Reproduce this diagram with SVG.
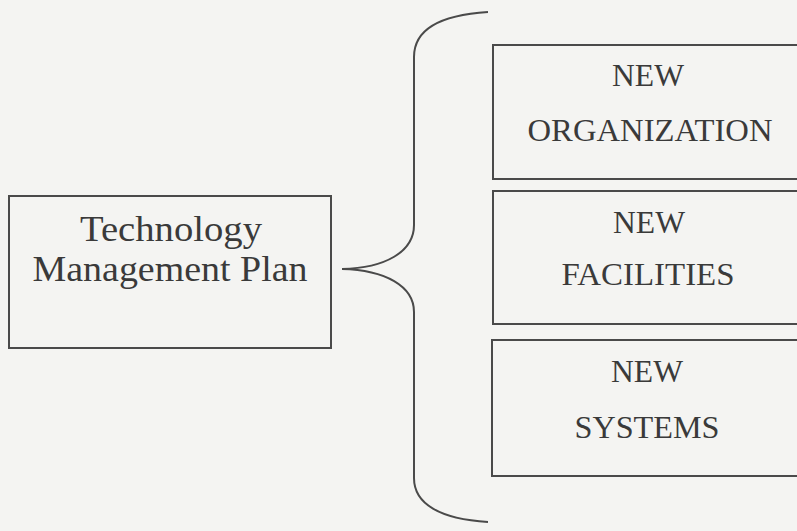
<svg xmlns="http://www.w3.org/2000/svg" width="797" height="531" viewBox="0 0 797 531">
  <style>
    .box { fill: none; stroke: #4a4a4a; stroke-width: 2; }
    .lbl { font-family: "Liberation Serif", "Times New Roman", serif; fill: #3a3a3a; text-anchor: middle; }
    .big { font-size: 35px; }
    .sm { font-size: 31px; }
    .brace { fill: none; stroke: #4a4a4a; stroke-width: 2; }
  </style>
  <rect width="797" height="531" fill="#f4f4f2"/>
  <g id="plan">
    <rect class="box" x="9" y="196" width="322" height="152"/>
    <text class="lbl big" x="171" y="241" textLength="182" lengthAdjust="spacingAndGlyphs">Technology</text>
    <text class="lbl big" x="170" y="281" textLength="275" lengthAdjust="spacingAndGlyphs">Management Plan</text>
  </g>
  <g id="connectors">
    <path class="brace" d="M488,12 C440,15 414,30 414,57 L414,225 C414,252 385,268 342,269 C385,270 414,286 414,312 L414,478 C414,504 440,519 488,522"/>
  </g>
  <g id="organization">
    <rect class="box" x="493" y="45" width="320" height="134"/>
    <text class="lbl sm" x="648" y="86" textLength="72" lengthAdjust="spacingAndGlyphs">NEW</text>
    <text class="lbl sm" x="650" y="141" textLength="245" lengthAdjust="spacingAndGlyphs">ORGANIZATION</text>
  </g>
  <g id="facilities">
    <rect class="box" x="493" y="191" width="320" height="133"/>
    <text class="lbl sm" x="649" y="233" textLength="72" lengthAdjust="spacingAndGlyphs">NEW</text>
    <text class="lbl sm" x="648" y="285" textLength="173" lengthAdjust="spacingAndGlyphs">FACILITIES</text>
  </g>
  <g id="systems">
    <rect class="box" x="492" y="340" width="320" height="136"/>
    <text class="lbl sm" x="647" y="382" textLength="72" lengthAdjust="spacingAndGlyphs">NEW</text>
    <text class="lbl sm" x="647" y="438" textLength="145" lengthAdjust="spacingAndGlyphs">SYSTEMS</text>
  </g>
</svg>
